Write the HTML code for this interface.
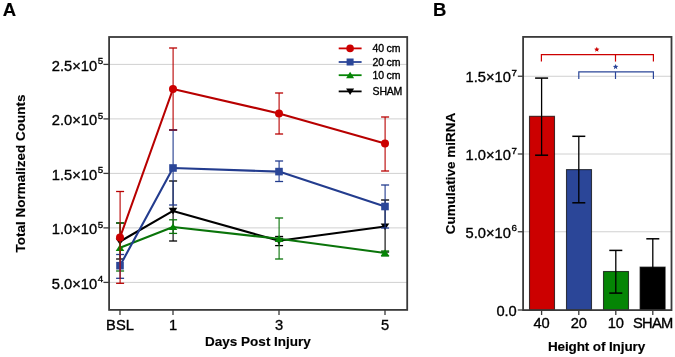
<!DOCTYPE html><html><head><meta charset="utf-8"><style>html,body{margin:0;padding:0;background:#fff;overflow:hidden}svg{display:block;filter:blur(0.3px)}text{font-family:"Liberation Sans",sans-serif;stroke:#000;stroke-width:0.35px}text.b{stroke-width:0.15px}</style></head><body>
<svg width="675" height="357" viewBox="0 0 675 357">
<rect width="675" height="357" fill="#fff"/>
<text x="2.8" y="16" font-size="18.5" font-weight="bold" class="b">A</text>
<text x="433" y="16" font-size="18.5" font-weight="bold" class="b">B</text>
<line x1="109.1" x2="407.2" y1="64.4" y2="64.4" stroke="#d0d0d0" stroke-width="1"/>
<line x1="109.1" x2="407.2" y1="118.9" y2="118.9" stroke="#d0d0d0" stroke-width="1"/>
<line x1="109.1" x2="407.2" y1="173.4" y2="173.4" stroke="#d0d0d0" stroke-width="1"/>
<line x1="109.1" x2="407.2" y1="227.9" y2="227.9" stroke="#d0d0d0" stroke-width="1"/>
<line x1="109.1" x2="407.2" y1="282.4" y2="282.4" stroke="#d0d0d0" stroke-width="1"/>
<text x="97.1" y="70.50" font-size="14.7" text-anchor="end">2.5×10</text>
<text x="97.8" y="64.10" font-size="9.8">5</text>
<line x1="103.4" x2="109.1" y1="64.4" y2="64.4" stroke="#3a3a3a" stroke-width="1.3"/>
<text x="97.1" y="125.00" font-size="14.7" text-anchor="end">2.0×10</text>
<text x="97.8" y="118.60" font-size="9.8">5</text>
<line x1="103.4" x2="109.1" y1="118.9" y2="118.9" stroke="#3a3a3a" stroke-width="1.3"/>
<text x="97.1" y="179.50" font-size="14.7" text-anchor="end">1.5×10</text>
<text x="97.8" y="173.10" font-size="9.8">5</text>
<line x1="103.4" x2="109.1" y1="173.4" y2="173.4" stroke="#3a3a3a" stroke-width="1.3"/>
<text x="97.1" y="234.00" font-size="14.7" text-anchor="end">1.0×10</text>
<text x="97.8" y="227.60" font-size="9.8">5</text>
<line x1="103.4" x2="109.1" y1="227.9" y2="227.9" stroke="#3a3a3a" stroke-width="1.3"/>
<text x="97.1" y="288.50" font-size="14.7" text-anchor="end">5.0×10</text>
<text x="97.8" y="282.10" font-size="9.8">4</text>
<line x1="103.4" x2="109.1" y1="282.4" y2="282.4" stroke="#3a3a3a" stroke-width="1.3"/>
<line x1="120" x2="120" y1="309.9" y2="315" stroke="#3a3a3a" stroke-width="1.3"/>
<text x="120" y="330.3" font-size="14.7" text-anchor="middle">BSL</text>
<line x1="173" x2="173" y1="309.9" y2="315" stroke="#3a3a3a" stroke-width="1.3"/>
<text x="173" y="330.3" font-size="14.7" text-anchor="middle">1</text>
<line x1="279" x2="279" y1="309.9" y2="315" stroke="#3a3a3a" stroke-width="1.3"/>
<text x="279" y="330.3" font-size="14.7" text-anchor="middle">3</text>
<line x1="385" x2="385" y1="309.9" y2="315" stroke="#3a3a3a" stroke-width="1.3"/>
<text x="385" y="330.3" font-size="14.7" text-anchor="middle">5</text>
<text x="258" y="345.7" font-size="13.5" font-weight="bold" class="b" text-anchor="middle">Days Post Injury</text>
<text transform="translate(25,173.5) rotate(-90)" font-size="13.5" font-weight="bold" class="b" text-anchor="middle">Total Normalized Counts</text>
<line x1="120.1" x2="120.1" y1="223" y2="259" stroke="#000" stroke-width="1.1"/>
<line x1="116.1" x2="124.1" y1="223" y2="223" stroke="#000" stroke-width="1.3"/>
<line x1="116.1" x2="124.1" y1="259" y2="259" stroke="#000" stroke-width="1.3"/>
<line x1="173.1" x2="173.1" y1="181" y2="241" stroke="#000" stroke-width="1.1"/>
<line x1="169.1" x2="177.1" y1="181" y2="181" stroke="#000" stroke-width="1.3"/>
<line x1="169.1" x2="177.1" y1="241" y2="241" stroke="#000" stroke-width="1.3"/>
<line x1="279.1" x2="279.1" y1="236.5" y2="245.6" stroke="#000" stroke-width="1.1"/>
<line x1="275.1" x2="283.1" y1="236.5" y2="236.5" stroke="#000" stroke-width="1.3"/>
<line x1="275.1" x2="283.1" y1="245.6" y2="245.6" stroke="#000" stroke-width="1.3"/>
<line x1="385.1" x2="385.1" y1="200" y2="252" stroke="#000" stroke-width="1.1"/>
<line x1="381.1" x2="389.1" y1="200" y2="200" stroke="#000" stroke-width="1.3"/>
<line x1="381.1" x2="389.1" y1="252" y2="252" stroke="#000" stroke-width="1.3"/>
<polyline points="120,241.5 173,210.9 279,240.8 385,226.5" fill="none" stroke="#000" stroke-width="2.1" stroke-linejoin="round"/>
<polygon points="115.7,238.4 124.3,238.4 120,245.1" fill="#000000"/>
<polygon points="168.7,207.8 177.3,207.8 173,214.5" fill="#000000"/>
<polygon points="274.7,237.70000000000002 283.3,237.70000000000002 279,244.4" fill="#000000"/>
<polygon points="380.7,223.4 389.3,223.4 385,230.1" fill="#000000"/>
<line x1="120.1" x2="120.1" y1="223" y2="271" stroke="#0a740a" stroke-width="1.1"/>
<line x1="116.1" x2="124.1" y1="223" y2="223" stroke="#0a740a" stroke-width="1.3"/>
<line x1="116.1" x2="124.1" y1="271" y2="271" stroke="#0a740a" stroke-width="1.3"/>
<line x1="173.1" x2="173.1" y1="219.8" y2="233.4" stroke="#0a740a" stroke-width="1.1"/>
<line x1="169.1" x2="177.1" y1="219.8" y2="219.8" stroke="#0a740a" stroke-width="1.3"/>
<line x1="169.1" x2="177.1" y1="233.4" y2="233.4" stroke="#0a740a" stroke-width="1.3"/>
<line x1="279.1" x2="279.1" y1="218" y2="259" stroke="#0a740a" stroke-width="1.1"/>
<line x1="275.1" x2="283.1" y1="218" y2="218" stroke="#0a740a" stroke-width="1.3"/>
<line x1="275.1" x2="283.1" y1="259" y2="259" stroke="#0a740a" stroke-width="1.3"/>
<line x1="385.1" x2="385.1" y1="251" y2="256" stroke="#0a740a" stroke-width="1.1"/>
<line x1="381.1" x2="389.1" y1="251" y2="251" stroke="#0a740a" stroke-width="1.3"/>
<line x1="381.1" x2="389.1" y1="256" y2="256" stroke="#0a740a" stroke-width="1.3"/>
<polyline points="120,247.8 173,227 279,238.8 385,253" fill="none" stroke="#0a740a" stroke-width="2.1" stroke-linejoin="round"/>
<polygon points="120,244.20000000000002 124.3,250.9 115.7,250.9" fill="#058505"/>
<polygon points="173,223.4 177.3,230.1 168.7,230.1" fill="#058505"/>
<polygon points="279,235.20000000000002 283.3,241.9 274.7,241.9" fill="#058505"/>
<polygon points="385,249.4 389.3,256.1 380.7,256.1" fill="#058505"/>
<line x1="120.1" x2="120.1" y1="254.5" y2="278.3" stroke="#233c8e" stroke-width="1.1"/>
<line x1="116.1" x2="124.1" y1="254.5" y2="254.5" stroke="#233c8e" stroke-width="1.3"/>
<line x1="116.1" x2="124.1" y1="278.3" y2="278.3" stroke="#233c8e" stroke-width="1.3"/>
<line x1="173.1" x2="173.1" y1="130" y2="205" stroke="#233c8e" stroke-width="1.1"/>
<line x1="169.1" x2="177.1" y1="130" y2="130" stroke="#233c8e" stroke-width="1.3"/>
<line x1="169.1" x2="177.1" y1="205" y2="205" stroke="#233c8e" stroke-width="1.3"/>
<line x1="279.1" x2="279.1" y1="161" y2="181.5" stroke="#233c8e" stroke-width="1.1"/>
<line x1="275.1" x2="283.1" y1="161" y2="161" stroke="#233c8e" stroke-width="1.3"/>
<line x1="275.1" x2="283.1" y1="181.5" y2="181.5" stroke="#233c8e" stroke-width="1.3"/>
<line x1="385.1" x2="385.1" y1="185" y2="228" stroke="#233c8e" stroke-width="1.1"/>
<line x1="381.1" x2="389.1" y1="185" y2="185" stroke="#233c8e" stroke-width="1.3"/>
<line x1="381.1" x2="389.1" y1="228" y2="228" stroke="#233c8e" stroke-width="1.3"/>
<polyline points="120,265.7 173,168 279,171.6 385,206.5" fill="none" stroke="#233c8e" stroke-width="2.1" stroke-linejoin="round"/>
<rect x="116.2" y="261.9" width="7.6" height="7.6" fill="#2b4698"/>
<rect x="169.2" y="164.2" width="7.6" height="7.6" fill="#2b4698"/>
<rect x="275.2" y="167.79999999999998" width="7.6" height="7.6" fill="#2b4698"/>
<rect x="381.2" y="202.7" width="7.6" height="7.6" fill="#2b4698"/>
<line x1="120.1" x2="120.1" y1="191.5" y2="283.3" stroke="#b80000" stroke-width="1.1"/>
<line x1="116.1" x2="124.1" y1="191.5" y2="191.5" stroke="#b80000" stroke-width="1.3"/>
<line x1="116.1" x2="124.1" y1="283.3" y2="283.3" stroke="#b80000" stroke-width="1.3"/>
<line x1="173.1" x2="173.1" y1="48" y2="130" stroke="#b80000" stroke-width="1.1"/>
<line x1="169.1" x2="177.1" y1="48" y2="48" stroke="#b80000" stroke-width="1.3"/>
<line x1="169.1" x2="177.1" y1="130" y2="130" stroke="#b80000" stroke-width="1.3"/>
<line x1="279.1" x2="279.1" y1="93" y2="134" stroke="#b80000" stroke-width="1.1"/>
<line x1="275.1" x2="283.1" y1="93" y2="93" stroke="#b80000" stroke-width="1.3"/>
<line x1="275.1" x2="283.1" y1="134" y2="134" stroke="#b80000" stroke-width="1.3"/>
<line x1="385.1" x2="385.1" y1="117" y2="171" stroke="#b80000" stroke-width="1.1"/>
<line x1="381.1" x2="389.1" y1="117" y2="117" stroke="#b80000" stroke-width="1.3"/>
<line x1="381.1" x2="389.1" y1="171" y2="171" stroke="#b80000" stroke-width="1.3"/>
<polyline points="120,237.5 173,89 279,113.4 385,143.5" fill="none" stroke="#b80000" stroke-width="2.1" stroke-linejoin="round"/>
<circle cx="120" cy="237.5" r="4" fill="#cc0000"/>
<circle cx="173" cy="89" r="4" fill="#cc0000"/>
<circle cx="279" cy="113.4" r="4" fill="#cc0000"/>
<circle cx="385" cy="143.5" r="4" fill="#cc0000"/>
<line x1="169.1" x2="177.1" y1="130" y2="130" stroke="#5a1f45" stroke-width="1.4"/>
<rect x="109.1" y="37" width="298.10" height="272.90" fill="none" stroke="#3a3a3a" stroke-width="1.8"/>
<line x1="338.7" x2="361.6" y1="48.4" y2="48.4" stroke="#cc0000" stroke-width="1.8"/>
<circle cx="350.1" cy="48.4" r="3.8" fill="#cc0000"/>
<text x="372.6" y="52.0" font-size="10.5" letter-spacing="-0.2">40 cm</text>
<line x1="338.7" x2="361.6" y1="62" y2="62" stroke="#2b4698" stroke-width="1.8"/>
<rect x="346.6" y="58.5" width="7" height="7" fill="#2b4698"/>
<text x="372.6" y="65.6" font-size="10.5" letter-spacing="-0.2">20 cm</text>
<line x1="338.7" x2="361.6" y1="75.2" y2="75.2" stroke="#058505" stroke-width="1.8"/>
<polygon points="350.1,71.7 354.1,78.2 346.1,78.2" fill="#058505"/>
<text x="372.6" y="78.8" font-size="10.5" letter-spacing="-0.2">10 cm</text>
<line x1="338.7" x2="361.6" y1="91.4" y2="91.4" stroke="#000000" stroke-width="1.8"/>
<polygon points="346.1,88.4 354.1,88.4 350.1,94.9" fill="#000000"/>
<text x="372.6" y="95.0" font-size="10.5" letter-spacing="-0.2">SHAM</text>
<line x1="523.1" x2="671.5" y1="231.75" y2="231.75" stroke="#d0d0d0" stroke-width="1"/>
<line x1="523.1" x2="671.5" y1="154.0" y2="154.0" stroke="#d0d0d0" stroke-width="1"/>
<line x1="523.1" x2="671.5" y1="76.25" y2="76.25" stroke="#d0d0d0" stroke-width="1"/>
<text x="510.9" y="82.15" font-size="14.7" text-anchor="end">1.5×10</text>
<text x="511.5" y="75.85" font-size="9.8">7</text>
<line x1="517.8" x2="523.1" y1="76.25" y2="76.25" stroke="#3a3a3a" stroke-width="1.3"/>
<text x="510.9" y="159.90" font-size="14.7" text-anchor="end">1.0×10</text>
<text x="511.5" y="153.60" font-size="9.8">7</text>
<line x1="517.8" x2="523.1" y1="154.0" y2="154.0" stroke="#3a3a3a" stroke-width="1.3"/>
<text x="510.9" y="237.65" font-size="14.7" text-anchor="end">5.0×10</text>
<text x="511.5" y="231.35" font-size="9.8">6</text>
<line x1="517.8" x2="523.1" y1="231.75" y2="231.75" stroke="#3a3a3a" stroke-width="1.3"/>
<text x="516.8" y="315.6" font-size="14.7" text-anchor="end">0.0</text>
<line x1="517.8" x2="523.1" y1="310" y2="310" stroke="#3a3a3a" stroke-width="1.3"/>
<rect x="529.5" y="116.3" width="25" height="193.80" fill="#cc0000" stroke="#000" stroke-opacity="0.7" stroke-width="1.1"/>
<line x1="541.6" x2="541.6" y1="78.1" y2="155.2" stroke="#000" stroke-width="1.3"/>
<line x1="535.1" x2="548.1" y1="78.1" y2="78.1" stroke="#000" stroke-width="1.5"/>
<line x1="535.1" x2="548.1" y1="155.2" y2="155.2" stroke="#000" stroke-width="1.5"/>
<line x1="541.6" x2="541.6" y1="310.1" y2="315" stroke="#3a3a3a" stroke-width="1.3"/>
<text x="541.6" y="327.8" font-size="14.7" text-anchor="middle">40</text>
<rect x="566.5" y="169.6" width="25" height="140.50" fill="#2b4698" stroke="#000" stroke-opacity="0.7" stroke-width="1.1"/>
<line x1="578.8" x2="578.8" y1="136.3" y2="202.8" stroke="#000" stroke-width="1.3"/>
<line x1="572.3" x2="585.3" y1="136.3" y2="136.3" stroke="#000" stroke-width="1.5"/>
<line x1="572.3" x2="585.3" y1="202.8" y2="202.8" stroke="#000" stroke-width="1.5"/>
<line x1="578.8" x2="578.8" y1="310.1" y2="315" stroke="#3a3a3a" stroke-width="1.3"/>
<text x="578.8" y="327.8" font-size="14.7" text-anchor="middle">20</text>
<rect x="603.5" y="271.5" width="25" height="38.60" fill="#058505" stroke="#000" stroke-opacity="0.7" stroke-width="1.1"/>
<line x1="615.8" x2="615.8" y1="250.4" y2="293.1" stroke="#000" stroke-width="1.3"/>
<line x1="609.3" x2="622.3" y1="250.4" y2="250.4" stroke="#000" stroke-width="1.5"/>
<line x1="609.3" x2="622.3" y1="293.1" y2="293.1" stroke="#000" stroke-width="1.5"/>
<line x1="615.8" x2="615.8" y1="310.1" y2="315" stroke="#3a3a3a" stroke-width="1.3"/>
<text x="615.8" y="327.8" font-size="14.7" text-anchor="middle">10</text>
<rect x="640.1" y="267.1" width="25" height="43.00" fill="#000000" stroke="#000" stroke-opacity="0.7" stroke-width="1.1"/>
<line x1="652.8" x2="652.8" y1="238.8" y2="295" stroke="#000" stroke-width="1.3"/>
<line x1="646.3" x2="659.3" y1="238.8" y2="238.8" stroke="#000" stroke-width="1.5"/>
<line x1="646.3" x2="659.3" y1="295" y2="295" stroke="#000" stroke-width="1.5"/>
<line x1="652.8" x2="652.8" y1="310.1" y2="315" stroke="#3a3a3a" stroke-width="1.3"/>
<text x="652.8" y="327.8" font-size="14.7" text-anchor="middle" letter-spacing="-0.7">SHAM</text>
<polyline points="541.4,61.6 541.4,54.7 653.4,54.7 653.4,61.6" fill="none" stroke="#cc0000" stroke-width="1.2"/>
<line x1="615.5" x2="615.5" y1="54.7" y2="61.6" stroke="#cc0000" stroke-width="1.2"/>
<polyline points="578.8,79 578.8,71.9 653.4,71.9 653.4,79" fill="none" stroke="#2b4698" stroke-width="1.2"/>
<line x1="615.5" x2="615.5" y1="71.9" y2="79" stroke="#2b4698" stroke-width="1.2"/>
<polygon points="596.80,46.80 597.54,48.58 599.46,48.73 598.00,49.99 598.45,51.87 596.80,50.86 595.15,51.87 595.60,49.99 594.14,48.73 596.06,48.58" fill="#cc0000"/>
<polygon points="615.60,63.90 616.37,65.74 618.36,65.90 616.84,67.20 617.30,69.15 615.60,68.11 613.90,69.15 614.36,67.20 612.84,65.90 614.83,65.74" fill="#2b4698"/>
<rect x="523.1" y="36.9" width="148.40" height="273.20" fill="none" stroke="#3a3a3a" stroke-width="1.8"/>
<text x="596.5" y="350.5" font-size="13.5" font-weight="bold" class="b" text-anchor="middle" letter-spacing="-0.12">Height of Injury</text>
<text transform="translate(455,173.5) rotate(-90)" font-size="13.5" font-weight="bold" class="b" text-anchor="middle">Cumulative miRNA</text>
</svg></body></html>
